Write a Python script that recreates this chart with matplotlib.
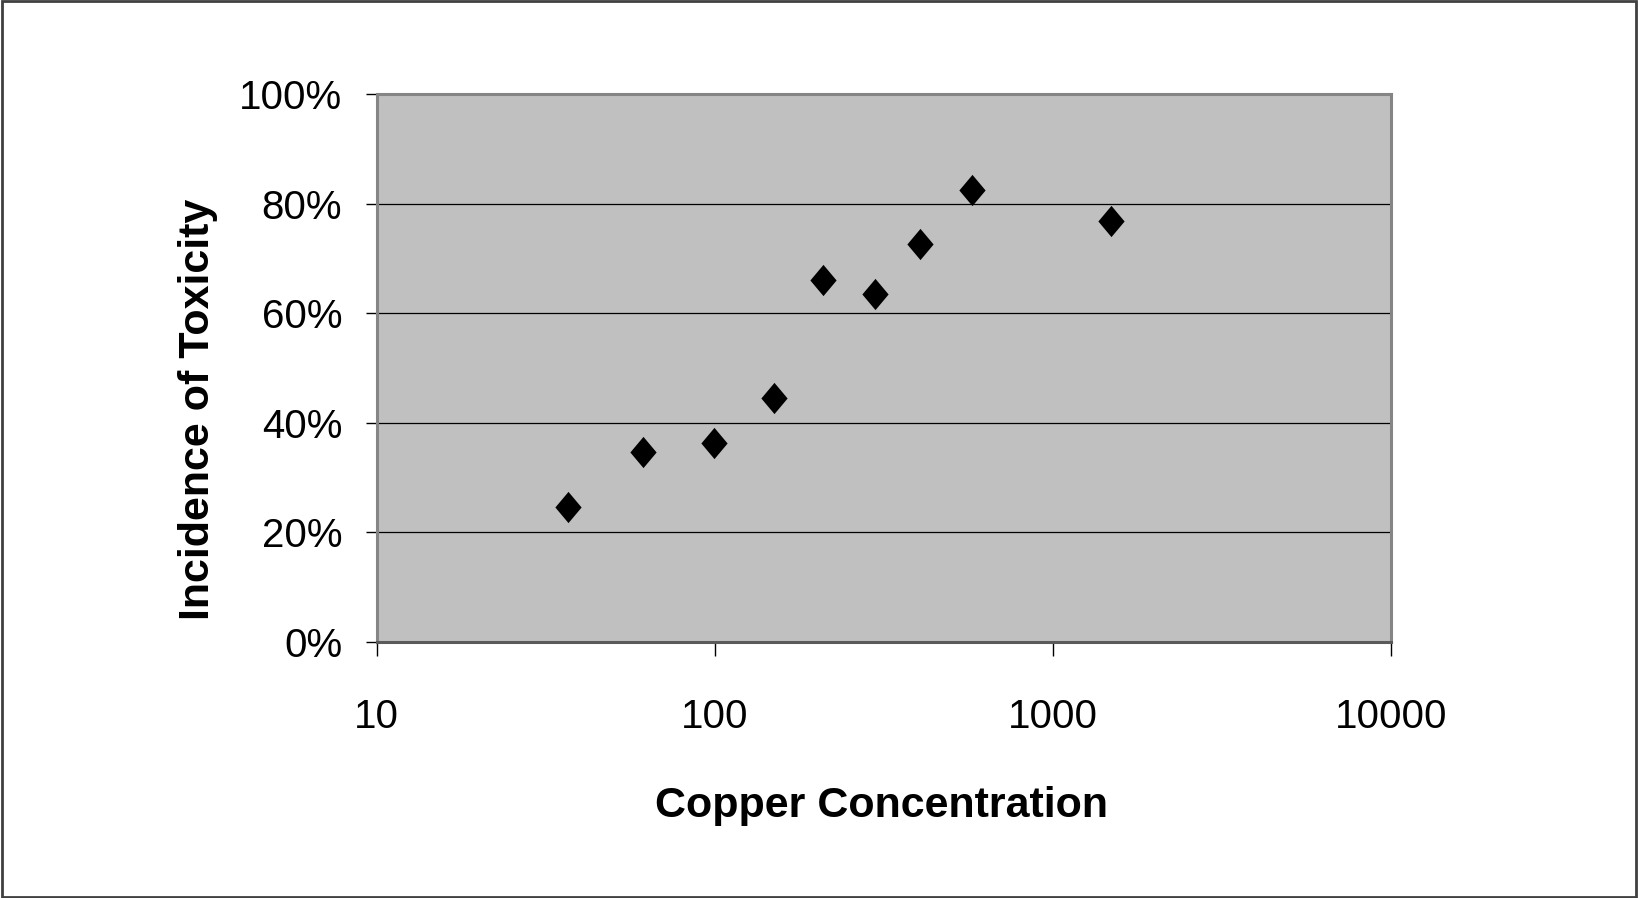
import numpy as np
import matplotlib.pyplot as plt
from matplotlib.path import Path
from matplotlib.patches import Rectangle
from matplotlib.ticker import FixedLocator, NullLocator, FuncFormatter

# copper concentration vs. incidence of toxicity
copper = [36.7, 61.1, 99.1, 149, 208, 298, 403, 574, 1481]
toxicity = [0.246, 0.347, 0.363, 0.445, 0.661, 0.635, 0.726, 0.825, 0.768]

x_ticks = [10, 100, 1000, 10000]
y_ticks = [0, 0.2, 0.4, 0.6, 0.8, 1.0]

plt.rcParams['font.family'] = ['Liberation Sans Narrow', 'Liberation Sans', 'DejaVu Sans']

# slightly tall diamond marker
diamond = Path([(0, 1), (0.84, 0), (0, -1), (-0.84, 0), (0, 1)],
               [Path.MOVETO, Path.LINETO, Path.LINETO, Path.LINETO, Path.CLOSEPOLY])

fig = plt.figure(figsize=(16.38, 8.98), dpi=100)
ax = fig.add_axes([0.230, 0.2851, 0.6195, 0.6102])
ax.set_facecolor('#c0c0c0')

ax.plot(copper, toxicity, linestyle='none', marker=diamond, markersize=22.5,
        color='black', markeredgewidth=0, zorder=3)

ax.set_xscale('log')
ax.set_xlim(10, 10000)
ax.set_ylim(0, 1)
ax.xaxis.set_major_locator(FixedLocator(x_ticks))
ax.xaxis.set_minor_locator(NullLocator())
ax.xaxis.set_major_formatter(FuncFormatter(lambda v, p: '%d' % v))
ax.set_yticks(y_ticks)
ax.yaxis.set_major_formatter(FuncFormatter(lambda v, p: '%d%%' % round(v * 100)))

ax.grid(axis='y', color='black', linewidth=0.9)
ax.set_axisbelow(True)

for side in ['top', 'right', 'left']:
    ax.spines[side].set_color('#858585')
    ax.spines[side].set_linewidth(2.2)
ax.spines['bottom'].set_color('#5a5a5a')
ax.spines['bottom'].set_linewidth(2.2)

ax.tick_params(axis='y', length=8, width=1, color='black', pad=17, labelsize=29)
ax.tick_params(axis='x', length=10, width=1, color='black', pad=30, labelsize=29)

fig.text(0.538, 0.1024, 'Copper Concentration', ha='center', va='center',
         fontsize=31, fontweight='bold')
fig.text(0.121, 0.544, 'Incidence of Toxicity', ha='center', va='center',
         fontsize=31, fontweight='bold', rotation=90)

# thin frame around the whole figure
fig.patches.append(Rectangle((0.001, 0.001), 0.998, 0.998, transform=fig.transFigure,
                             fill=False, edgecolor='#404040', linewidth=2))

fig.savefig('out.png', dpi=100)
